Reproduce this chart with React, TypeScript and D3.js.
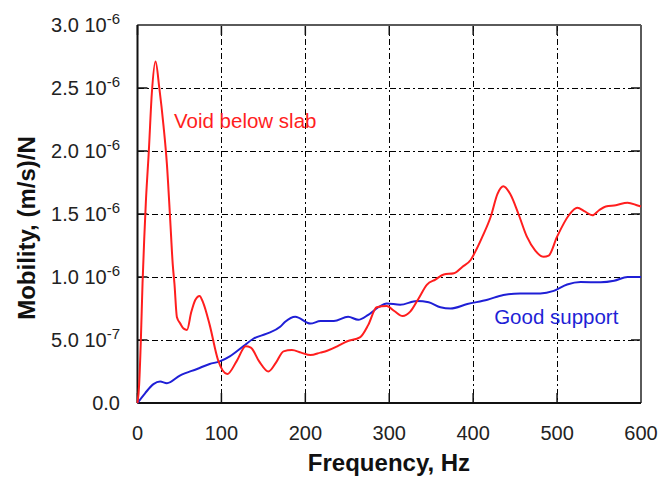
import React from 'react';
import { scaleLinear, line, curveMonotoneX } from 'd3';

const dim = {
  width: 659,
  height: 477,
  left: 137.5,
  right: 641,
  top: 25,
  bottom: 403,
};

// frequency (Hz) and mobility (x1e-6 (m/s)/N)
const freqVoid = [0, 2, 4, 6, 8, 10, 13.5, 17, 21.5, 26, 31, 35, 39, 42, 44, 47, 51, 55, 59, 64, 69, 74, 78, 86, 96, 107, 118, 129, 135, 145, 156, 165, 174, 184, 195, 206, 218, 226, 238, 250, 265, 275, 285, 297, 306, 316, 325, 335, 345, 355, 365, 377, 387, 397, 404, 411, 421, 429, 436, 444, 454, 464, 474, 484, 490, 500, 514, 524, 533, 542, 550, 558, 570, 584, 597, 600];
const mobVoid = [0, 0.15, 0.5, 0.95, 1.3, 1.6, 2.0, 2.45, 2.71, 2.5, 2.2, 1.9, 1.45, 1.1, 0.95, 0.68, 0.63, 0.59, 0.58, 0.72, 0.82, 0.85, 0.8, 0.62, 0.34, 0.23, 0.33, 0.45, 0.44, 0.33, 0.25, 0.32, 0.41, 0.42, 0.4, 0.38, 0.4, 0.415, 0.45, 0.49, 0.52, 0.62, 0.76, 0.77, 0.73, 0.69, 0.725, 0.83, 0.94, 0.98, 1.02, 1.03, 1.08, 1.135, 1.22, 1.32, 1.48, 1.66, 1.72, 1.66, 1.5, 1.32, 1.21, 1.16, 1.17, 1.32, 1.49, 1.55, 1.52, 1.49, 1.53, 1.56, 1.57, 1.59, 1.565, 1.56];

const freqGood = [0, 9, 19, 27, 35, 51, 71, 86, 98, 110, 126, 138, 154, 170, 176, 188, 206, 218, 234, 251, 263, 275, 287, 297, 313, 333, 347, 361, 373, 393, 417, 436, 456, 480, 496, 512, 528, 552, 568, 584, 597, 600];
const mobGood = [0, 0.077, 0.15, 0.17, 0.157, 0.22, 0.27, 0.31, 0.33, 0.37, 0.45, 0.51, 0.55, 0.605, 0.645, 0.685, 0.63, 0.65, 0.65, 0.685, 0.66, 0.7, 0.76, 0.79, 0.78, 0.81, 0.8, 0.76, 0.75, 0.785, 0.82, 0.857, 0.87, 0.87, 0.89, 0.94, 0.96, 0.958, 0.97, 1.0, 1.0, 1.0];

const xTicks = [0, 100, 200, 300, 400, 500, 600];
const yTicks = [0, 0.5, 1.0, 1.5, 2.0, 2.5, 3.0];
const yTickMantissa = ['0.0', '5.0', '1.0', '1.5', '2.0', '2.5', '3.0'];
const yTickExponent = ['', '-7', '-6', '-6', '-6', '-6', '-6'];

const font = 'Liberation Sans, Arial, sans-serif';
const red = '#ff1e1e';
const blue = '#1f1fd6';

const App = () => {
  const x = scaleLinear().domain([0, 600]).range([dim.left, dim.right]);
  const y = scaleLinear().domain([0, 3]).range([dim.bottom, dim.top]);

  const path = line<[number, number]>()
    .x((d) => x(d[0]))
    .y((d) => y(d[1]))
    .curve(curveMonotoneX);

  const voidPts = freqVoid.map((f, i) => [f, mobVoid[i]] as [number, number]);
  const goodPts = freqGood.map((f, i) => [f, mobGood[i]] as [number, number]);
  const tickLen = 10;

  return (
    <div style={{ position: 'absolute', left: 0, top: 0 }}>
      <svg width={dim.width} height={dim.height} style={{ display: 'block', background: '#fff' }}>
        {/* grid */}
        <g shapeRendering="crispEdges">
          {yTicks.slice(1, -1).map((t) => (
            <line key={'gy' + t} x1={dim.left} x2={dim.right} y1={y(t)} y2={y(t)}
              stroke="#000" strokeWidth={1} strokeDasharray="6,3,2,3" />
          ))}
          {xTicks.slice(1, -1).map((t) => (
            <line key={'gx' + t} x1={x(t)} x2={x(t)} y1={dim.top} y2={dim.bottom}
              stroke="#000" strokeWidth={1} strokeDasharray="6,3,2,3" />
          ))}
        </g>
        {/* ticks on all four sides */}
        {yTicks.map((t) => (
          <g key={'ty' + t} stroke="#111" strokeWidth={1.5}>
            <line x1={dim.left} x2={dim.left + tickLen} y1={y(t)} y2={y(t)} />
            <line x1={dim.right - tickLen} x2={dim.right} y1={y(t)} y2={y(t)} />
          </g>
        ))}
        {xTicks.map((t) => (
          <g key={'tx' + t} stroke="#111" strokeWidth={1.5}>
            <line x1={x(t)} x2={x(t)} y1={dim.bottom} y2={dim.bottom - tickLen} />
            <line x1={x(t)} x2={x(t)} y1={dim.top} y2={dim.top + tickLen} />
          </g>
        ))}
        {/* frame */}
        <line x1={dim.left} x2={dim.right} y1={dim.top} y2={dim.top} stroke="#5a5a5a" strokeWidth={2} />
        <line x1={dim.right} x2={dim.right} y1={dim.top} y2={dim.bottom} stroke="#5a5a5a" strokeWidth={2} />
        <line x1={dim.left} x2={dim.left} y1={dim.top} y2={dim.bottom} stroke="#111" strokeWidth={2} />
        <line x1={dim.left} x2={dim.right} y1={dim.bottom} y2={dim.bottom} stroke="#111" strokeWidth={2} />

        {/* series */}
        <path d={path(goodPts) || ''} fill="none" stroke={blue} strokeWidth={2} />
        <path d={path(voidPts) || ''} fill="none" stroke={red} strokeWidth={2} />

        {/* tick labels */}
        {xTicks.map((t) => (
          <text key={'lx' + t} x={x(t)} y={440} textAnchor="middle" fontFamily={font}
            fontSize={20} fill="#222">{t}</text>
        ))}
        {yTicks.map((t, i) => (
          <text key={'ly' + t} x={120} y={y(t) + 7} textAnchor="end" fontFamily={font}
            fontSize={20} fill="#222">
            {yTickMantissa[i]}
            {yTickExponent[i] && (
              <>
                {' 10'}
                <tspan fontSize={15} dy={-8}>{yTickExponent[i]}</tspan>
              </>
            )}
          </text>
        ))}

        {/* axis titles */}
        <text x={389} y={471} textAnchor="middle" fontFamily={font} fontSize={24}
          fontWeight="bold" fill="#111">Frequency, Hz</text>
        <text transform="translate(35,228) rotate(-90)" textAnchor="middle" fontFamily={font}
          fontSize={24} fontWeight="bold" fill="#111">Mobility, (m/s)/N</text>

        {/* annotations */}
        <text x={x(43.5)} y={y(2.18)} fontFamily={font} fontSize={20.5} fill={red}>Void below slab</text>
        <text x={x(425)} y={y(0.627)} fontFamily={font} fontSize={20.5} fill={blue}>Good support</text>
      </svg>
    </div>
  );
};

export default App;
